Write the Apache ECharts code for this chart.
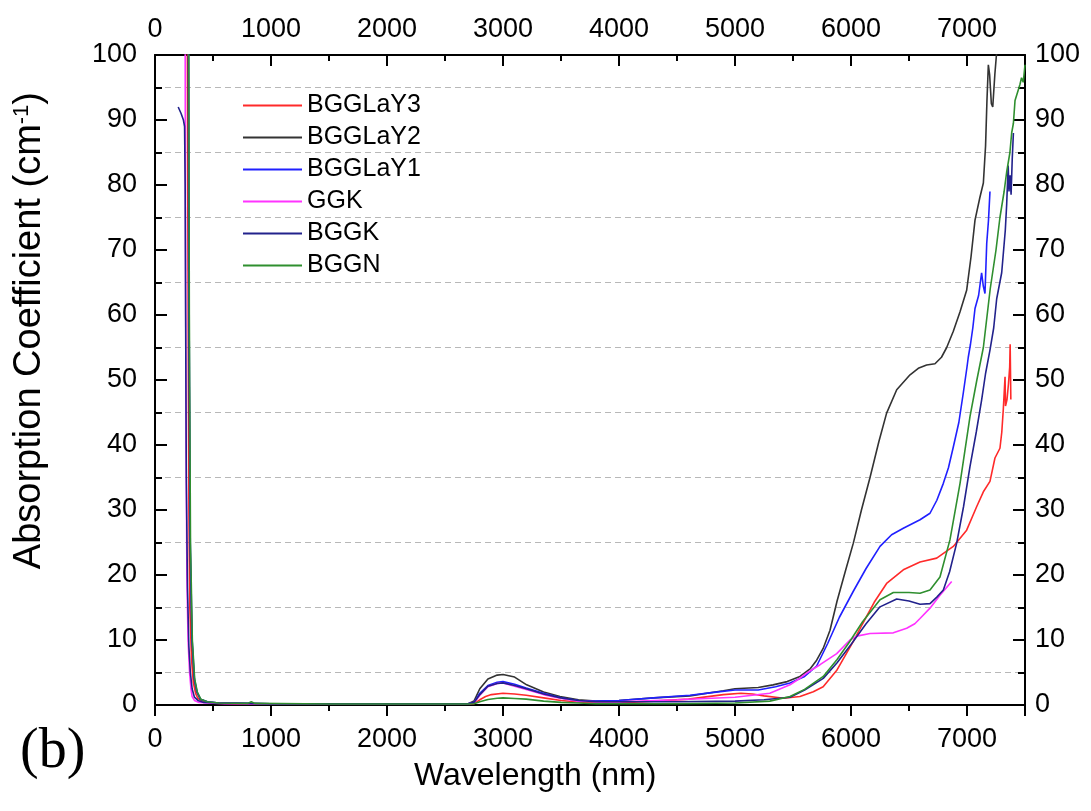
<!DOCTYPE html>
<html>
<head>
<meta charset="utf-8">
<script src="https://cdn.jsdelivr.net/npm/echarts@6/dist/echarts.min.js"></script>
<style>
html,body{margin:0;padding:0;background:#fff;}
#chart{width:1091px;height:811px;}
</style>
</head>
<body>
<div id="chart"></div>
<script>
// ---- data (wavelength nm, absorption coefficient cm^-1) ----
const seriesNames = ['BGGLaY3', 'BGGLaY2', 'BGGLaY1', 'GGK', 'BGGK', 'BGGN'];
const xTicks = [0, 1000, 2000, 3000, 4000, 5000, 6000, 7000];
const yTicks = [0, 10, 20, 30, 40, 50, 60, 70, 80, 90, 100];

const bggLaY3 = [[270,160],[282,80],[292,30],[300,15],[315,7],[330,3.5],[350,1.8],[370,1.0],[420,0.5],[500,0.3],[800,0.2],[1500,0.15],[2500,0.15],[2700,0.15],[2750,0.2],[2800,0.8],[2850,1.3],[2900,1.6],[3000,1.8],[3100,1.7],[3200,1.5],[3350,1.1],[3500,0.7],[3650,0.45],[3800,0.3],[4000,0.3],[4300,0.6],[4600,0.9],[4900,1.6],[5050,1.8],[5150,1.7],[5250,1.4],[5420,1.05],[5560,1.3],[5675,2.05],[5760,2.8],[5876,5.3],[6020,9.8],[6100,12.5],[6200,15.8],[6307,18.7],[6451,20.8],[6595,22],[6739,22.6],[6882,24.4],[6997,26.9],[7083,30.5],[7141,32.8],[7198,34.4],[7241,38],[7284,39.5],[7300,42],[7313,45.5],[7328,50.5],[7332,46],[7345,47],[7358,49.5],[7368,52],[7372,55.5],[7378,47]];

const bggLaY2 = [[280,160],[292,60],[302,25],[318,10],[338,4],[360,2],[390,0.9],[450,0.5],[550,0.3],[1000,0.2],[2000,0.2],[2700,0.2],[2750,0.6],[2800,2.5],[2870,4],[2950,4.6],[3000,4.7],[3100,4.3],[3204,3.1],[3350,2.0],[3491,1.3],[3650,0.8],[3800,0.6],[4000,0.7],[4300,1.1],[4612,1.4],[4900,2.2],[5000,2.5],[5200,2.7],[5328,3.1],[5450,3.6],[5560,4.4],[5650,5.6],[5704,6.9],[5760,8.7],[5819,11.5],[5880,16],[5950,20.5],[6020,24.9],[6090,30],[6164,35],[6240,40.5],[6307,44.9],[6394,48.5],[6509,50.8],[6580,51.8],[6652,52.3],[6724,52.5],[6780,53.5],[6825,55],[6882,57.5],[6940,60.5],[6997,63.8],[7035,69],[7069,74.6],[7110,78],[7141,80.3],[7160,86],[7172,93],[7184,98.5],[7195,97],[7210,92.5],[7222,92],[7240,97],[7256,100.5],[7270,106]];

const bggLaY1 = [[282,160],[294,60],[304,25],[320,10],[340,4],[362,2],[392,0.9],[450,0.5],[550,0.3],[1000,0.2],[2000,0.2],[2700,0.2],[2750,0.4],[2800,1.8],[2870,3.0],[2950,3.5],[3000,3.6],[3100,3.2],[3200,2.6],[3350,1.8],[3500,1.1],[3650,0.7],[3800,0.6],[4000,0.7],[4300,1.1],[4612,1.5],[4800,1.9],[5000,2.3],[5200,2.3],[5350,2.8],[5474,3.4],[5600,4.4],[5704,6],[5800,9.5],[5900,13.5],[6020,17.5],[6130,21],[6250,24.4],[6350,26.2],[6451,27.2],[6595,28.5],[6681,29.5],[6740,31.5],[6796,34.1],[6840,36.5],[6882,39.7],[6930,43.5],[6968,48],[7000,52],[7011,53.5],[7030,55.5],[7050,58],[7069,61],[7100,63],[7126,66.5],[7140,64.5],[7155,63.3],[7170,71],[7185,74.5],[7198,79]];

const ggk = [[255,160],[262,80],[268,40],[275,20],[285,10],[298,5],[310,2.5],[320,1.3],[340,0.7],[380,0.4],[450,0.3],[600,0.2],[2000,0.2],[2700,0.2],[2750,0.3],[2800,1.5],[2870,2.8],[2950,3.3],[3000,3.4],[3100,2.9],[3200,2.4],[3350,1.6],[3500,1.0],[3650,0.6],[3800,0.5],[4000,0.5],[4500,0.8],[5000,1.2],[5300,1.8],[5474,3.1],[5550,4.0],[5618,4.9],[5733,6.2],[5877,7.9],[5991,10],[6050,10.6],[6164,11],[6365,11.1],[6480,11.8],[6550,12.5],[6595,13.3],[6681,14.9],[6767,16.9],[6868,19]];

const bggk = [[200,92],[225,91],[245,90],[255,89],[260,80],[264,60],[270,35],[280,18],[292,9],[305,5],[320,2.5],[340,1.2],[370,0.7],[420,0.4],[550,0.3],[1000,0.2],[2000,0.2],[2700,0.2],[2750,0.4],[2800,1.6],[2870,2.9],[2950,3.3],[3000,3.4],[3100,3.0],[3200,2.5],[3350,1.7],[3500,1.1],[3650,0.7],[3800,0.5],[4000,0.5],[4500,0.5],[5000,0.6],[5250,0.8],[5474,1.2],[5600,2.3],[5761,4.1],[5880,6.5],[6000,9.3],[6130,12.5],[6250,15.1],[6394,16.3],[6500,16],[6595,15.5],[6681,15.6],[6740,16.6],[6796,17.7],[6850,20.5],[6911,24.9],[6970,30.5],[7026,36.7],[7080,42],[7126,46.9],[7160,51],[7198,54.6],[7230,58],[7256,62.5],[7299,66.5],[7330,73],[7342,77],[7355,83],[7362,79],[7372,81.5],[7380,78.5],[7390,84],[7400,88]];

const bggn = [[285,160],[296,60],[306,25],[322,10],[342,4],[365,2],[395,0.9],[450,0.5],[550,0.3],[800,0.25],[830,0.5],[860,0.25],[1500,0.15],[2700,0.15],[2750,0.2],[2800,0.5],[2870,0.85],[2950,1.05],[3000,1.1],[3100,1.0],[3200,0.9],[3350,0.6],[3500,0.4],[3650,0.3],[3800,0.2],[4000,0.2],[4500,0.2],[5000,0.3],[5300,0.6],[5474,1.3],[5600,2.4],[5761,4.4],[5880,7],[5991,9.8],[6100,12.8],[6250,16.2],[6365,17.3],[6500,17.3],[6595,17.2],[6681,17.7],[6767,19.7],[6853,25.4],[6940,34.1],[7026,44.4],[7085,50],[7141,55],[7200,64],[7250,70],[7284,75],[7320,79],[7342,82],[7370,85],[7385,88],[7400,89.5],[7414,93],[7440,94.5],[7457,95.5],[7470,96.5],[7485,95.8],[7500,98.5]];

const seriesData = [bggLaY3, bggLaY2, bggLaY1, ggk, bggk, bggn];
const colors = ['#ff2a2a', '#333333', '#2020ff', '#ff33ff', '#22228c', '#2f8f2f'];

// ---- chart ----
const FONT = 'Liberation Sans, Arial, sans-serif';
const chart = echarts.init(document.getElementById('chart'), null, {renderer: 'canvas'});

function xAxisCfg(pos) {
  const bottom = pos === 'bottom';
  return {
    type: 'value', position: pos, min: 0, max: 7500, interval: 1000,
    axisLine: {show: true, onZero: false, lineStyle: {color: '#000', width: 2}},
    axisTick: {show: true, inside: !bottom, length: 11, lineStyle: {color: '#000', width: 2}},
    minorTick: {show: true, splitNumber: 2, length: 6, lineStyle: {color: '#000', width: 2}},
    splitLine: {show: false},
    axisLabel: {show: true, margin: bottom ? 21 : 12, color: '#000', fontSize: 27, fontFamily: FONT,
      formatter: v => (xTicks.indexOf(v) >= 0 ? String(v) : '')}
  };
}
function yAxisCfg(pos) {
  const left = pos === 'left';
  return {
    type: 'value', position: pos, min: 0, max: 100, interval: 10,
    axisLine: {show: true, onZero: false, lineStyle: {color: '#000', width: 2}},
    axisTick: {show: true, inside: true, length: 12, lineStyle: {color: '#000', width: 2}},
    minorTick: {show: true, splitNumber: 2, length: 7, lineStyle: {color: '#000', width: 2}},
    splitLine: {show: false},
    minorSplitLine: left ? {show: true, lineStyle: {color: '#b8b8b8', type: [6, 4], width: 1}} : {show: false},
    axisLabel: {show: true, margin: left ? 18 : 10, color: '#000', fontSize: 27, fontFamily: FONT,
      formatter: v => (yTicks.indexOf(v) >= 0 ? String(v) : '')}
  };
}

const option = {
  backgroundColor: '#fff',
  animation: false,
  grid: {left: 155, right: 66, top: 55, bottom: 106, containLabel: false},
  xAxis: [xAxisCfg('bottom'), xAxisCfg('top')],
  yAxis: [yAxisCfg('left'), yAxisCfg('right')],
  legend: {
    show: true, orient: 'vertical', left: 238, top: 88,
    itemWidth: 59, itemHeight: 2, itemGap: 7, icon: 'rect',
    textStyle: {color: '#000', fontSize: 25, fontFamily: FONT, lineHeight: 25},
    data: seriesNames
  },
  series: seriesNames.map((n, i) => ({
    name: n, type: 'line', xAxisIndex: 0, yAxisIndex: 0,
    data: seriesData[i], showSymbol: false, symbol: 'none', smooth: false,
    clip: true, color: colors[i],
    lineStyle: {color: colors[i], width: 1.6}
  })),
  graphic: [
    {type: 'text', left: 11, top: 92, rotation: Math.PI / 2, silent: true,
      style: {text: '{a|Absorption Coefficient (cm}{s|-1}{a|)}', fill: '#000',
        rich: {a: {fontSize: 38, fontFamily: FONT, fill: '#000'},
               s: {fontSize: 22, fontFamily: FONT, fill: '#000', verticalAlign: 'top', padding: [0, 0, 14, 0]}}}},
    {type: 'text', left: 414, top: 760, silent: true,
      style: {text: 'Wavelength (nm)', fill: '#000', font: '32px ' + FONT}},
    {type: 'text', left: 20, top: 724, silent: true,
      style: {text: '(b)', fill: '#000', font: '56px "Liberation Serif", "DejaVu Serif", serif'}}
  ]
};
chart.setOption(option);
</script>
</body>
</html>
